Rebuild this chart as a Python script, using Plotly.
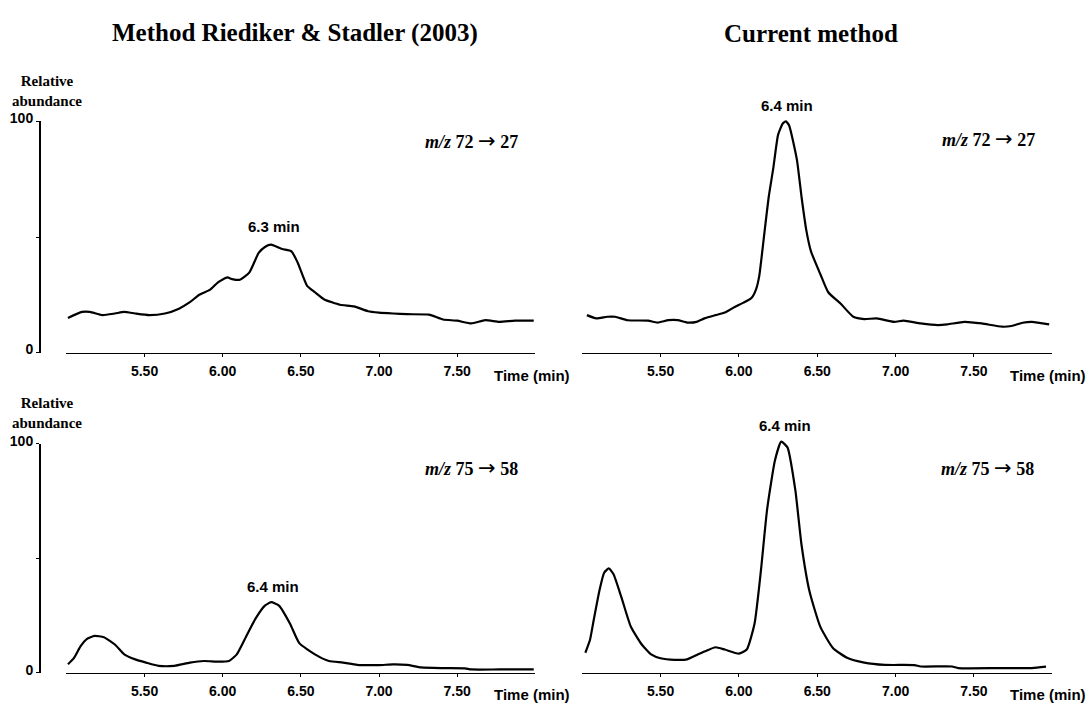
import plotly.graph_objects as go

W, H = 1089, 706

# ---------------- data ----------------
tl_time = [5.01, 5.10, 5.15, 5.23, 5.31, 5.37, 5.44, 5.53, 5.63, 5.72, 5.79, 5.85, 5.92, 5.97, 6.03,
           6.06, 6.11, 6.17, 6.23, 6.27, 6.31, 6.38, 6.44, 6.48, 6.54, 6.59, 6.65, 6.75, 6.84, 6.93,
           7.00, 7.09, 7.18, 7.32, 7.41, 7.50, 7.59, 7.68, 7.77, 7.87, 7.99]
tl_abund = [15.0, 17.6, 17.6, 16.2, 16.9, 17.6, 16.9, 16.2, 16.9, 19.0, 21.8, 25.0, 27.2, 30.4, 32.5,
            31.8, 31.5, 34.6, 43.1, 45.7, 46.7, 44.8, 43.8, 38.9, 28.9, 26.1, 23.0, 20.7, 20.0, 17.9,
            17.3, 16.9, 16.6, 16.4, 14.3, 13.8, 12.6, 14.0, 13.3, 13.8, 13.8]

tr_time = [5.03, 5.09, 5.16, 5.21, 5.29, 5.42, 5.48, 5.55, 5.61, 5.67, 5.73, 5.78, 5.85, 5.91, 5.97,
           6.03, 6.08, 6.11, 6.13, 6.16, 6.19, 6.22, 6.25, 6.28, 6.30, 6.32, 6.37, 6.40, 6.43, 6.46,
           6.52, 6.57, 6.65, 6.73, 6.80, 6.88, 6.99, 7.05, 7.16, 7.27, 7.33, 7.44, 7.55, 7.68, 7.74,
           7.81, 7.87, 7.98]
tr_abund = [16.2, 14.8, 15.5, 15.5, 14.0, 13.8, 13.0, 14.0, 14.0, 13.0, 13.3, 14.8, 16.2, 17.3, 19.6,
            21.6, 23.6, 27.5, 33.2, 50.2, 67.2, 80.0, 94.2, 99.1, 100.0, 98.4, 83.5, 67.2, 53.0, 43.8,
            33.9, 26.1, 21.1, 15.5, 14.5, 14.8, 13.3, 13.8, 12.6, 11.9, 12.2, 13.3, 12.6, 11.2, 11.5,
            12.9, 13.3, 12.2]

bl_time = [5.01, 5.05, 5.09, 5.13, 5.18, 5.24, 5.31, 5.37, 5.44, 5.51, 5.59, 5.69, 5.79, 5.88, 5.97,
           6.04, 6.09, 6.15, 6.21, 6.27, 6.31, 6.36, 6.43, 6.49, 6.59, 6.68, 6.77, 6.86, 7.00, 7.09,
           7.18, 7.27, 7.41, 7.55, 7.59, 7.77, 7.99]
bl_abund = [3.7, 6.6, 11.5, 14.7, 16.1, 15.5, 12.3, 8.0, 5.8, 4.4, 3.0, 3.0, 4.4, 5.1, 4.8,
            5.1, 8.0, 15.8, 23.6, 29.3, 30.8, 29.3, 21.5, 12.9, 8.0, 5.1, 4.4, 3.4, 3.3, 3.6,
            3.4, 2.3, 2.0, 1.9, 1.4, 1.4, 1.4]

br_time = [5.02, 5.05, 5.07, 5.11, 5.14, 5.17, 5.20, 5.25, 5.31, 5.38, 5.44, 5.50, 5.59, 5.67, 5.74,
           5.80, 5.85, 5.91, 6.00, 6.05, 6.10, 6.14, 6.18, 6.23, 6.27, 6.31, 6.36, 6.40, 6.45, 6.52,
           6.60, 6.69, 6.80, 6.93, 7.12, 7.16, 7.36, 7.40, 7.66, 7.87, 7.96]
br_abund = [8.7, 14.4, 21.7, 35.9, 43.7, 45.6, 43.0, 33.0, 20.2, 12.3, 8.0, 6.3, 5.6, 5.8, 8.0,
            9.8, 11.1, 10.1, 8.3, 10.1, 21.5, 44.3, 71.4, 92.8, 101.0, 98.5, 79.9, 55.7, 35.7, 20.0,
            10.8, 6.5, 4.4, 3.4, 3.3, 2.7, 2.7, 2.0, 2.0, 2.0, 2.6]

x_tick_vals = [5.5, 6.0, 6.5, 7.0, 7.5]
x_tick_text = ["5.50", "6.00", "6.50", "7.00", "7.50"]
y_tick_vals = [0, 50, 100]
y_tick_text = ["0", "", "100"]
col_titles = ["Method Riediker & Stadler (2003)", "Current method"]
y_title = "Relative<br>abundance"
x_title = "Time (min)"
transitions = [("72", "27"), ("75", "58")]
peak_labels = ["6.3 min", "6.4 min", "6.4 min", "6.4 min"]

# ---------------- geometry helpers ----------------
def px(x):
    return x / W


def py(y):
    return 1 - y / H


SERIF = "Liberation Serif, Times New Roman, serif"
SANS = "Liberation Sans, Arial, sans-serif"

col_px = [(66.4, 535.3), (582.2, 1052.3)]
row_px = [(349.5, 113.0), (677.0, 443.0)]  # (pixel of 0, pixel of 100)


def ydom(row, top_val):
    p0, p100 = row_px[row]
    ppu = (p0 - p100) / 100.0
    ptop = p0 - top_val * ppu
    return [py(p0), py(ptop)]


fig = go.Figure()

panels = [
    (tl_time, tl_abund, 0, 0),
    (tr_time, tr_abund, 0, 1),
    (bl_time, bl_abund, 1, 0),
    (br_time, br_abund, 1, 1),
]

layout = {}
for i, (t, a, row, col) in enumerate(panels):
    n = "" if i == 0 else str(i + 1)
    fig.add_trace(go.Scatter(
        x=t, y=a, mode="lines",
        line=dict(color="black", width=2.2, shape="spline", smoothing=0.5),
        xaxis="x" + n, yaxis="y" + n, showlegend=False, hoverinfo="skip",
    ))
    top_val = 100 if col == 0 else 103
    layout["xaxis" + n] = dict(
        domain=[px(col_px[col][0]), px(col_px[col][1])],
        range=[5.0, 8.0], anchor="y" + n,
        showline=True, linecolor="black", linewidth=1.5,
        ticks="outside", ticklen=3, tickwidth=1, tickcolor="black",
        tickvals=x_tick_vals, ticktext=x_tick_text,
        tickfont=dict(family=SANS, size=14, color="black", weight="bold"),
        ticklabelstandoff=2,
        showgrid=False, zeroline=False, fixedrange=True,
    )
    if col == 0:
        layout["yaxis" + n] = dict(
            domain=ydom(row, top_val), range=[0, top_val],
            anchor="free", position=px(39),
            showline=True, linecolor="black", linewidth=1.5,
            ticks="outside", ticklen=3, tickwidth=1, tickcolor="black",
            tickvals=y_tick_vals, ticktext=y_tick_text,
            tickfont=dict(family=SANS, size=14, color="black", weight="bold"),
            ticklabelshift=-3,
            showgrid=False, zeroline=False, fixedrange=True,
        )
    else:
        layout["yaxis" + n] = dict(
            domain=ydom(row, top_val), range=[0, top_val], anchor="x" + n,
            visible=False, showgrid=False, zeroline=False, fixedrange=True,
        )

annotations = []


def ann(text, x, y, font, xanchor="center"):
    annotations.append(dict(
        text=text, x=px(x), y=py(y), xref="paper", yref="paper",
        xanchor=xanchor, yanchor="middle", showarrow=False, font=font,
    ))


title_font = dict(family=SERIF, size=25, color="black", weight="bold")
ann("<b>" + col_titles[0].replace("&", "&amp;") + "</b>", 294.5, 23, title_font)
ann("<b>" + col_titles[1] + "</b>", 811, 23, title_font)

ylab_font = dict(family=SERIF, size=15, color="black", weight="bold")
ann("<b>" + y_title + "</b>", 47, 82, ylab_font)
ann("<b>" + y_title + "</b>", 47, 411, ylab_font)

xlab_font = dict(family=SANS, size=15, color="black", weight="bold")
for (xx, yy) in [(492, 373), (1008, 373), (492, 699), (1008, 699)]:
    ann("<b>" + x_title + "</b>", xx, yy, xlab_font, xanchor="left")

mz_font = dict(family=SERIF, size=18, color="black", weight="bold")
arrow = '<span style="font-family:DejaVu Sans;font-size:21px;font-weight:normal">→</span>'
mz_pos = [(471.5, 133, 0), (988, 131, 0), (471.5, 468, 1), (987, 468, 1)]
for (xx, yy, k) in mz_pos:
    a_, b_ = transitions[k]
    ann("<b><i>m/z</i> " + a_ + " " + arrow + " " + b_ + "</b>", xx, yy, mz_font)

pk_font = dict(family=SANS, size=15, color="black", weight="bold")
pk_pos = [(274, 221), (787, 97), (273, 589), (785, 424)]
for (xx, yy), lab in zip(pk_pos, peak_labels):
    ann("<b>" + lab + "</b>", xx, yy, pk_font)

fig.update_layout(
    width=W, height=H,
    margin=dict(l=0, r=0, t=0, b=0),
    paper_bgcolor="white", plot_bgcolor="white",
    annotations=annotations,
    **layout,
)

fig.write_html(
    "out.html",
    config={"displayModeBar": False, "staticPlot": True},
    post_script="document.body.style.margin='0';document.body.style.overflow='hidden';",
)
